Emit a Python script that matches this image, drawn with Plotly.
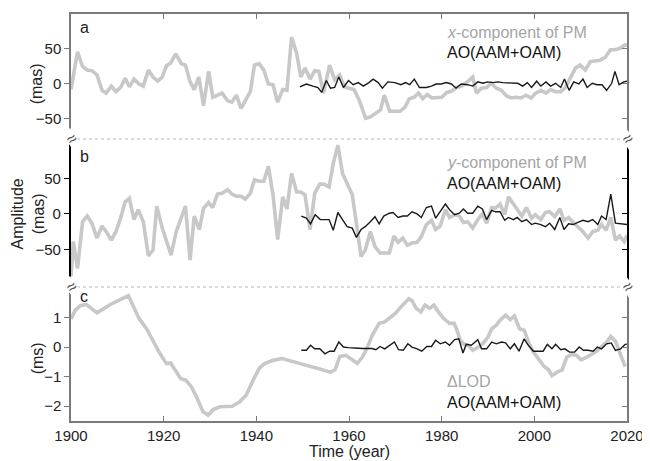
import plotly.graph_objects as go

# ---------------- data ----------------
pmx_years = [1900, 1901.4, 1902.5, 1903.5, 1904.5, 1905.6, 1906.7, 1907.6, 1908.7, 1909.7,
             1910.7, 1911.7, 1912.6, 1913.6, 1914.7, 1915.6, 1916.7, 1917.7, 1918.7, 1919.7,
             1920.6, 1921.5, 1922.6, 1923.8, 1924.7, 1925.7, 1926.6, 1927.6, 1928.6, 1929.7,
             1930.6, 1931.6, 1932.6, 1933.8, 1934.7, 1935.7, 1936.7, 1937.6, 1938.7, 1939.6,
             1940.6, 1941.6, 1942.6, 1943.6, 1944.6, 1945.7, 1946.6, 1947.6, 1948.7, 1949.6,
             1950.5, 1951.6, 1952.6, 1953.5, 1954.5, 1955.8, 1956.9, 1958, 1959, 1960,
             1961.1, 1962.2, 1963.6, 1964.6, 1965.7, 1966.8, 1967.6, 1968.8, 1970, 1971,
             1972.1, 1973, 1974, 1975, 1975.9, 1976.9, 1977.9, 1979, 1980, 1981.1,
             1982.2, 1983.2, 1984.3, 1985.4, 1986.7, 1987.5, 1988.6, 1989.7, 1990.7, 1991.8,
             1992.9, 1994, 1995, 1996.1, 1997.1, 1998.2, 1999.3, 2000.3, 2001.4, 2002.5,
             2003.5, 2004.6, 2005.7, 2006.7, 2007.8, 2008.9, 2009.9, 2011, 2012.1, 2013.2,
             2014.2, 2015.3, 2016.4, 2017.4, 2018.5, 2019.6, 2020]
pmx_values = [-8, 46, 25, 20, 19, 13, -9, -13, -3, -11,
              -5, 8, -4, 7, 0, -3, 20, 10, 4, 10,
              26, 30, 43, 29, 27, 3, -8, 10, -31, 18,
              -19, -16, -13, -24, -26, -16, -35, -24, -11, 27,
              29, 20, 0, -1, -26, -8, -9, 67, 44, 10,
              23, 7, 19, 18, -13, 27, 6, 13, -4, -6,
              -8, -23, -49, -47, -42, -37, -16, -39, -39, -39,
              -33, -21, -19, -13, -21, -15, -20, -20, -19, -12,
              -10, -5, -3, 2, 10, -13, -6, -5, 1, -6,
              -9, -17, -20, -19, -20, -16, -20, -13, -9, -13,
              -8, -11, -11, -5, 10, 23, 27, 20, 32, 33,
              34, 38, 49, 49, 51, 56, 55]

aox_years = [1949.4, 1950.8, 1952.2, 1953.3, 1954.1, 1955.1, 1956.0, 1956.9, 1957.8, 1958.8,
             1959.9, 1960.9, 1962, 1963.1, 1964.3, 1965.2, 1966.3, 1967.2, 1968.4, 1969.9,
             1971.2, 1972.2, 1973.1, 1974.1, 1975.2, 1976.7, 1977.8, 1978.8, 1979.9, 1981,
             1982.1, 1983.1, 1984.2, 1985.6, 1986.7, 1987.8, 1988.9, 1989.9, 1991, 1992.1,
             1993.2, 1994.2, 1995.3, 1996.4, 1997.5, 1998.5, 1999.4, 2000.5, 2001.4, 2002.5,
             2003.5, 2004.6, 2005.7, 2006.5, 2007.5, 2008.5, 2009.6, 2010.5, 2011.4, 2012.5,
             2013.5, 2014.6, 2015.6, 2016.7, 2017.4, 2018.3, 2019.3, 2020]
aox_values = [-4, 0, -3, -5, -12, 5, -6, -5, 10, -5,
              5, -1, 2, -3, 2, 7, 2, -6, 3, 2,
              -1, 2, -1, 7, -5, -5, -3, 0, 0, 2,
              0, -6, 0, -1, -3, 3, 1, 3, 2, 3,
              2, 2, 1, 1, -3, 2, -5, 4, -3, 3,
              -3, 1, -5, 7, -9, 3, 0, 7, -5, 1,
              -1, -1, -9, 1, 18, -1, 3, 4]

pmy_years = [1900, 1900.5, 1901.4, 1902.5, 1903.5, 1904.5, 1905.6, 1906.7, 1907.6, 1908.7,
             1909.7, 1910.7, 1911.7, 1912.6, 1913.6, 1914.5, 1915.6, 1916.7, 1917.7, 1918.5,
             1919.7, 1920.6, 1921.6, 1922.7, 1923.8, 1924.7, 1925.7, 1926.6, 1927.7, 1928.6,
             1929.7, 1930.6, 1931.6, 1932.6, 1933.8, 1934.7, 1935.7, 1936.7, 1937.6, 1938.7,
             1939.6, 1940.6, 1941.6, 1942.6, 1943.6, 1944.6, 1945.7, 1946.6, 1947.6, 1948.7,
             1949.6, 1950.5, 1951.6, 1952.6, 1953.7, 1954.6, 1955.7, 1956.6, 1957.6, 1958.6,
             1959.6, 1960.7, 1961.6, 1962.6, 1963.5, 1964.6, 1965.6, 1966.7, 1967.8, 1968.7,
             1969.7, 1970.6, 1971.6, 1972.6, 1973.6, 1974.7, 1975.6, 1976.7, 1977.8, 1978.7,
             1979.7, 1980.8, 1981.7, 1982.8, 1983.8, 1984.7, 1985.6, 1986.7, 1987.8, 1988.8,
             1989.7, 1990.8, 1991.6, 1992.6, 1993.6, 1994.4, 1995.5, 1996.3, 1997.3, 1998.3,
             1999.4, 2000.2, 2001.4, 2002.4, 2003.3, 2004.4, 2005.5, 2006.4, 2007.4, 2008.4,
             2009.4, 2010.5, 2011.6, 2012.6, 2013.7, 2014.5, 2015.5, 2016.5, 2017.5, 2018.4,
             2019.4, 2020]
pmy_values = [-88, -39, -77, -11, -3, -13, -34, -17, -25, -37,
              -25, -6, 17, 22, -8, 6, -11, -59, -51, 11,
              -20, -37, -58, -25, -4, 11, -65, -3, -22, 8,
              16, 9, 28, 29, 34, 28, 25, 25, 21, 29,
              48, 46, 46, 67, 27, -36, 24, 7, 57, 31,
              31, 27, -22, 29, 42, 42, 38, 71, 97, 57,
              43, 27, -13, -60, -51, -25, -46, -55, -55, -55,
              -31, -40, -34, -44, -41, -40, -32, -15, -9, -22,
              -17, 6, -5, -1, -3, -12, -11, -20, -8, 0,
              -13, 9, 8, 14, -1, 24, 14, 7, -3, 9,
              -6, -1, -8, 2, 3, -4, 7, -9, -5, -12,
              -18, -25, -34, -25, -23, -15, -23, -5, -37, -31,
              -39, -30]

aoy_years = [1949.7, 1950.8, 1951.7, 1952.7, 1953.8, 1954.6, 1955.7, 1956.6, 1957.6, 1958.6,
             1959.6, 1960.7, 1961.6, 1962.6, 1963.5, 1964.6, 1965.6, 1966.5, 1967.5, 1968.7,
             1969.5, 1970.6, 1971.6, 1972.6, 1973.6, 1974.7, 1975.6, 1976.7, 1977.8, 1978.7,
             1979.7, 1980.8, 1981.7, 1982.8, 1983.8, 1984.7, 1985.6, 1986.7, 1987.8, 1988.8,
             1989.7, 1990.8, 1991.6, 1992.6, 1993.6, 1994.4, 1995.5, 1996.3, 1997.3, 1998.3,
             1999.4, 2000.2, 2001.4, 2002.4, 2003.3, 2004.4, 2005.5, 2006.4, 2007.4, 2008.4,
             2009.4, 2010.5, 2011.6, 2012.6, 2013.7, 2014.5, 2015.5, 2016.5, 2017.5, 2018.4,
             2019.4, 2020]
aoy_values = [-3, -6, -14, -1, -8, -8, -8, -23, 2, -8,
              -18, -20, -33, -22, -18, -11, -4, -14, -3, 1,
              2, -5, -3, -3, 3, 0, -5, 9, 11, -6,
              3, 14, 6, -1, 1, 7, 1, 1, 11, 7,
              -8, 5, 3, 3, -9, -5, -8, -5, -11, -8,
              -15, -13, -15, -18, -13, -22, -5, -22, -14, -15,
              -12, -9, -11, -8, -15, -3, -8, 28, -13, -14,
              -15, -15]

lod_years = [1900, 1900.9, 1902, 1903.3, 1904.5, 1905.6, 1907, 1908.5, 1910.6, 1912.4,
             1913.4, 1914.7, 1916.3, 1917.6, 1919.2, 1920.6, 1921.5, 1922.4, 1923.7, 1924.8,
             1926, 1927.1, 1928.5, 1929.6, 1930.7, 1932.1, 1933.5, 1934.8, 1936.4, 1937.8,
             1939.3, 1940.7, 1941.8, 1943.6, 1945.6, 1947.9, 1950.8, 1953.7, 1956, 1957,
             1958, 1959.3, 1960.8, 1961.8, 1962.9, 1964, 1965, 1966.5, 1967.7, 1969,
             1970, 1971.1, 1972.2, 1972.9, 1973.6, 1974.5, 1975.5, 1976.4, 1977.4, 1978.3,
             1979.3, 1980.4, 1981.7, 1982.7, 1983.3, 1984, 1984.7, 1985.8, 1986.7, 1987.9,
             1989, 1990, 1990.8, 1991.8, 1992.6, 1993.8, 1994.8, 1995.7, 1996.8, 1997.8,
             1998.9, 1999.8, 2000.9, 2002.1, 2003.1, 2003.8, 2004.9, 2006, 2007, 2008.1,
             2009.1, 2010.1, 2011.1, 2012.4, 2013.5, 2014.5, 2015.6, 2016.5, 2017.5, 2018.4,
             2019.6]
lod_values = [0.95, 1.24, 1.4, 1.44, 1.29, 1.16, 1.29, 1.44, 1.6, 1.74,
              1.4, 0.96, 0.62, 0.22, -0.22, -0.56, -0.54, -0.76, -1.07, -1.12,
              -1.35, -1.69, -2.19, -2.3, -2.11, -2.02, -2.0, -2.0, -1.85, -1.63,
              -1.12, -0.7, -0.56, -0.45, -0.39, -0.48, -0.62, -0.74, -0.85, -0.77,
              -0.32, -0.28, -0.43, -0.55, -0.34, 0.0, 0.4, 0.8, 0.85, 1.02,
              1.14, 1.34, 1.53, 1.63, 1.57, 1.31, 1.19, 1.42, 1.31, 1.42,
              1.19, 0.97, 0.8, 0.8, 0.57, 0.23, 0.11, 0.06, -0.11, 0.0,
              0.14, 0.34, 0.62, 0.74, 0.91, 1.08, 0.93, 1.05, 0.62, 0.57,
              0.11, -0.17, -0.4, -0.66, -0.77, -0.97, -0.85, -0.77, -0.34, -0.25,
              -0.28, -0.43, -0.36, -0.25, -0.14, 0.02, 0.17, 0.36, 0.2, -0.17,
              -0.66]

aol_years = [1949.7, 1950.8, 1951.7, 1952.6, 1953.7, 1954.8, 1955.8, 1956.8, 1957.8, 1958.8,
             1959.8, 1960.9, 1962, 1963, 1964, 1965, 1965.8, 1966.7, 1967.7, 1968.8,
             1969.8, 1970.7, 1971.7, 1972.7, 1973.6, 1974.7, 1975.7, 1976.8, 1977.8, 1978.7,
             1979.7, 1980.8, 1981.7, 1982.8, 1983.7, 1984.6, 1985.3, 1986.4, 1987.8, 1988.6,
             1989.7, 1990.8, 1991.8, 1992.9, 1993.8, 1994.8, 1995.7, 1996.7, 1997.8, 1998.7,
             1999.8, 2000.9, 2001.9, 2002.8, 2003.8, 2004.6, 2005.7, 2006.6, 2007.6, 2008.7,
             2009.7, 2010.6, 2011.6, 2012.7, 2013.6, 2014.5, 2015.6, 2016.6, 2017.5, 2018.6,
             2019.6, 2020]
aol_values = [-0.11, -0.11, 0.06, -0.06, -0.06, -0.23, -0.14, -0.14, 0.17, 0.0,
              -0.02, -0.02, -0.04, -0.05, -0.05, -0.05, -0.09, 0.02, -0.06, 0.06,
              0.17, -0.09, -0.11, 0.11, 0.0, -0.06, -0.14, 0.02, 0.02, 0.23,
              0.11, 0.17, 0.06, 0.25, 0.28, -0.2, 0.09, 0.06, 0.25, -0.06,
              -0.06, 0.17, 0.11, 0.17, 0.14, -0.06, 0.11, -0.14, 0.28, 0.06,
              -0.14, -0.14, -0.14, 0.09, -0.06, 0.09, -0.09, -0.06, -0.17, -0.17,
              0.0, -0.11, -0.11, -0.14, 0.0, -0.06, 0.11, 0.14, -0.11, -0.06,
              0.09, 0.1]

x_ticks = [1900, 1920, 1940, 1960, 1980, 2000, 2020]
mas_ticks = [-50, 0, 50]
ms_ticks = [-2, -1, 0, 1]

# ---------------- styling ----------------
GRAY_LINE = "#c8c8c8"
BLACK_LINE = "#1a1a1a"
AX_GRAY = "#7a7a7a"
FONT = "Liberation Sans, Arial, sans-serif"
TXT = "#222222"

# the page body has an 8px margin, so the figure is drawn offset by 8px
OFF = 8
WIN_W, WIN_H = 650, 461
W, H = WIN_W - OFF, WIN_H - OFF
# target plot area in window pixels: x 71..632, y 14..421
PL, PR, PT, PB = 71, 632, 14, 421
ML, MT = PL - OFF, PT - OFF
MR, MB = W - (PR - OFF), H - (PB - OFF)
PW, PH = PR - PL, PB - PT


def py(p):  # window pixel y -> paper y
    return (PB - p) / PH


def px(p):  # window pixel x -> paper x
    return (p - PL) / PW


dom_a = [py(139), 1.0]
dom_b = [py(287), py(139)]
dom_c = [0.0, py(287)]
rng_a = [-78.6, 100]
rng_b = [-103, 105.6]
rng_c = [-2.5, 2.03]

fig = go.Figure()

gray = dict(color=GRAY_LINE, width=3.6)
black = dict(color=BLACK_LINE, width=1.4)

fig.add_trace(go.Scatter(x=pmx_years, y=pmx_values, mode="lines", line=gray, xaxis="x", yaxis="y"))
fig.add_trace(go.Scatter(x=aox_years, y=aox_values, mode="lines", line=black, xaxis="x", yaxis="y"))
fig.add_trace(go.Scatter(x=pmy_years, y=pmy_values, mode="lines", line=gray, xaxis="x2", yaxis="y2"))
fig.add_trace(go.Scatter(x=aoy_years, y=aoy_values, mode="lines", line=black, xaxis="x2", yaxis="y2"))
fig.add_trace(go.Scatter(x=lod_years, y=lod_values, mode="lines", line=gray, xaxis="x3", yaxis="y3"))
fig.add_trace(go.Scatter(x=aol_years, y=aol_values, mode="lines", line=black, xaxis="x3", yaxis="y3"))
# empty traces so the right-hand overlay axes get drawn
for xa, ya in [("x", "y4"), ("x2", "y5"), ("x3", "y6")]:
    fig.add_trace(go.Scatter(x=[], y=[], xaxis=xa, yaxis=ya, hoverinfo="skip"))

tickfont = dict(family=FONT, size=15, color=TXT)


def yax(dom, rng, ticks, color, width):
    return dict(domain=dom, range=rng, tickvals=ticks, ticks="outside", ticklen=5,
                tickcolor=color, tickwidth=1, showline=True, linecolor=color, linewidth=width,
                showgrid=False, zeroline=False, tickfont=tickfont, anchor="x")


def yright(over, rng, ticks, color, width):
    return dict(overlaying=over, side="right", range=rng, tickvals=ticks, ticks="inside",
                ticklen=5, tickcolor=color, showline=True, linecolor=color, linewidth=width,
                showticklabels=False, showgrid=False, zeroline=False, anchor="x")


xcommon = dict(domain=[0, 1], range=[1900, 2020], tickvals=x_ticks, showgrid=False, zeroline=False)

fig.update_layout(
    width=W, height=H, showlegend=False,
    margin=dict(l=ML, r=MR, t=MT, b=MB, pad=0),
    paper_bgcolor="white", plot_bgcolor="white",
    font=dict(family=FONT, color=TXT),
    xaxis=dict(**xcommon, anchor="y", side="top", showline=True, linecolor=AX_GRAY, linewidth=1.5,
               ticks="inside", ticklen=5, tickcolor=AX_GRAY, showticklabels=False),
    xaxis2=dict(**xcommon, anchor="y2", visible=False),
    xaxis3=dict(**xcommon, anchor="y3", side="bottom", showline=True, linecolor=AX_GRAY, linewidth=1.5,
                ticks="inside", ticklen=5, tickcolor=AX_GRAY, tickfont=tickfont),
    yaxis=yax(dom_a, rng_a, mas_ticks, AX_GRAY, 1.5),
    yaxis2=yax(dom_b, rng_b, mas_ticks, "#000000", 2.2),
    yaxis3=yax(dom_c, rng_c, ms_ticks, AX_GRAY, 1.5),
    yaxis4=yright("y", rng_a, mas_ticks, AX_GRAY, 1.5),
    yaxis5=yright("y2", rng_b, mas_ticks, "#000000", 2.2),
    yaxis6=yright("y3", rng_c, ms_ticks, AX_GRAY, 1.5),
)

# dotted separators between panels
for yb in [py(139), py(287)]:
    fig.add_shape(type="line", xref="paper", yref="paper", x0=0, x1=1, y0=yb, y1=yb,
                  line=dict(color="#b8b8b8", width=1, dash="dot"))

ann = []
# axis break marks
for yb in [py(139), py(287)]:
    for xb in [0, 1]:
        ann.append(dict(x=xb, y=yb, xref="paper", yref="paper", text="≈", showarrow=False,
                        textangle=-35, font=dict(family=FONT, size=17, color="#555555"),
                        xanchor="center", yanchor="middle", bgcolor="white", borderpad=0))

# panel letters
for lab, yy in [("a", 28), ("b", 156), ("c", 296)]:
    ann.append(dict(x=px(78), y=py(yy), xref="paper", yref="paper", text=lab, showarrow=False,
                    xanchor="left", yanchor="middle", font=dict(family=FONT, size=16, color=TXT)))

# legend-like labels
leg_gray = "#a5a5a5"
legend_items = [
    ("<i>x</i>-component of PM", leg_gray, 32),
    ("AO(AAM+OAM)", "#111111", 52),
    ("<i>y</i>-component of PM", leg_gray, 162),
    ("AO(AAM+OAM)", "#111111", 183),
    ("ΔLOD", leg_gray, 381),
    ("AO(AAM+OAM)", "#111111", 402),
]
for txt, col, yy in legend_items:
    ann.append(dict(x=px(448), y=py(yy), xref="paper", yref="paper", text=txt, showarrow=False,
                    xanchor="left", yanchor="middle", font=dict(family=FONT, size=16, color=col)))

# y axis titles
ann.append(dict(x=px(37), y=py(84), xref="paper", yref="paper", text="(mas)", showarrow=False,
                textangle=-90, xanchor="center", yanchor="middle", font=dict(family=FONT, size=16, color=TXT)))
ann.append(dict(x=px(28), y=py(214), xref="paper", yref="paper", text="Amplitude<br>(mas)", showarrow=False,
                textangle=-90, xanchor="center", yanchor="middle", font=dict(family=FONT, size=16, color=TXT)))
ann.append(dict(x=px(37), y=py(358), xref="paper", yref="paper", text="(ms)", showarrow=False,
                textangle=-90, xanchor="center", yanchor="middle", font=dict(family=FONT, size=16, color=TXT)))
# x axis title
ann.append(dict(x=0.5, y=py(452), xref="paper", yref="paper", text="Time (year)", showarrow=False,
                xanchor="center", yanchor="middle", font=dict(family=FONT, size=16, color=TXT)))

fig.update_layout(annotations=ann)
fig.write_html("out.html")
